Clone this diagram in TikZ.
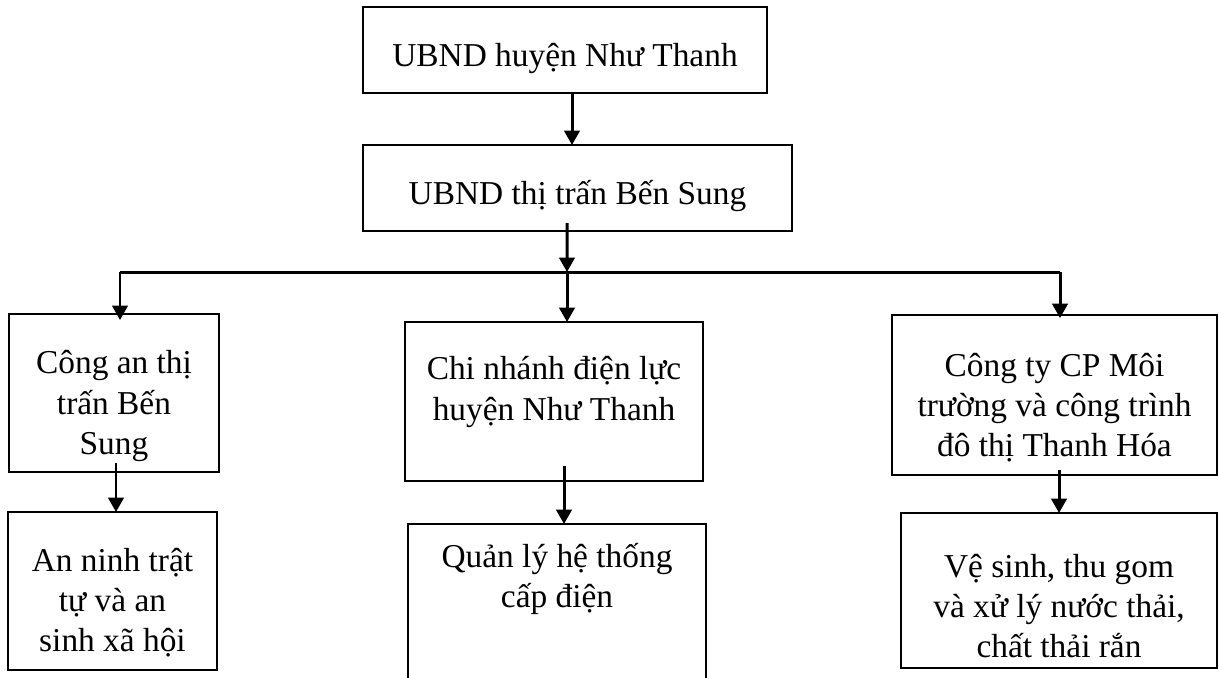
\documentclass[tikz,border=0pt]{standalone}
\usepackage{fontspec}
\setmainfont{Liberation Serif}
\usetikzlibrary{arrows.meta}

\begin{document}
\begin{tikzpicture}[x=0.02cm,y=-0.02cm,
	box/.style={draw,line width=1.1pt,inner sep=0pt,outer sep=0pt},
	txt/.style={align=center,inner sep=0pt,font=\fontsize{19}{22.8}\selectfont},
	link/.style={line width=1.7pt},
	arr/.style={link,-{Triangle[length=0.29cm,width=0.31cm]}}]

	\useasboundingbox (0,0) rectangle (1219,677);

	% boxes
	\node[box,minimum width=8.08cm,minimum height=1.72cm] (huyen) at (565,50) {};
	\node[box,minimum width=8.58cm,minimum height=1.72cm] (thitran) at (577.5,188) {};
	\node[box,minimum width=4.2cm,minimum height=3.16cm] (congan) at (114,393) {};
	\node[box,minimum width=5.96cm,minimum height=3.18cm] (dienluc) at (554,401.5) {};
	\node[box,minimum width=6.5cm,minimum height=3.2cm] (moitruong) at (1054.5,395) {};
	\node[box,minimum width=4.18cm,minimum height=3.16cm] (anninh) at (112.5,591) {};
	\node[box,minimum width=5.96cm,minimum height=3.92cm] (capdien) at (557,622) {};
	\node[box,minimum width=6.32cm,minimum height=3.1cm] (vesinh) at (1059,590.5) {};

	% texts
	\node[txt] (huyen-t) at ([yshift=-0.16cm]huyen) {UBND huyện Như Thanh};
	\node[txt] (thitran-t) at ([yshift=-0.16cm]thitran) {UBND thị trấn Bến Sung};
	\node[txt] (congan-t) at ([yshift=-0.26cm]congan) {Công an thị\\trấn Bến\\Sung};
	\node[txt] (dienluc-t) at ([yshift=0.19cm]dienluc) {Chi nhánh điện lực\\huyện Như Thanh};
	\node[txt] (moitruong-t) at ([yshift=-0.26cm]moitruong) {Công ty CP Môi\\trường và công trình\\đô thị Thanh Hóa};
	\node[txt] (anninh-t) at ([yshift=-0.24cm]anninh) {An ninh trật\\tự và an\\sinh xã hội};
	\node[txt] (capdien-t) at ([yshift=-1.1cm]capdien.north) {Quản lý hệ thống\\cấp điện};
	\node[txt] (vesinh-t) at ([yshift=-0.31cm]vesinh) {Vệ sinh, thu gom\\và xử lý nước thải,\\chất thải rắn};

	\coordinate (busL) at (120,272);
	\coordinate (busM) at (567,272);
	\coordinate (busR) at (1060,272);

	\draw[arr] ([xshift=0.14cm]huyen.south) -- ([xshift=0.14cm]huyen.south |- thitran.north);
	\draw[arr] ([xshift=-0.21cm,yshift=0.16cm]thitran.south) -- (busM);
	\draw[link] (busL) -- (busR);
	\draw[arr] (busL) -- ([yshift=-0.12cm]busL |- congan.north);
	\draw[arr] (busM) -- (busM |- dienluc.north);
	\draw[arr] (busR) -- ([yshift=-0.06cm]busR |- moitruong.north);
	\draw[arr] ([xshift=0.04cm,yshift=0.18cm]congan.south) -- ([xshift=0.04cm]congan.south |- anninh.north);
	\draw[arr] ([xshift=0.2cm,yshift=0.3cm]dienluc.south) -- ([xshift=0.2cm]dienluc.south |- capdien.north);
	\draw[arr] ([xshift=0.09cm,yshift=0.1cm]moitruong.south) -- ([xshift=0.09cm]moitruong.south |- vesinh.north);

\end{tikzpicture}
\end{document}
